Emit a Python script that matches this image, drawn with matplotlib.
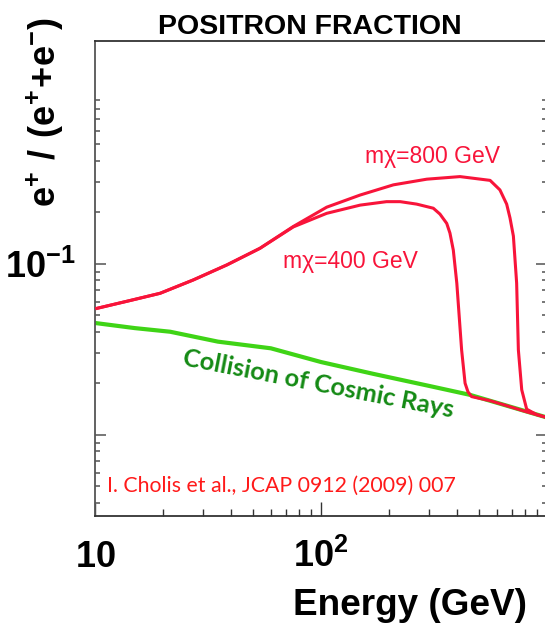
import matplotlib.pyplot as plt
from matplotlib.ticker import FixedLocator, NullFormatter

# values (energy in GeV, positron fraction)
energy_bg = [10, 15, 21.5, 35, 60, 100, 170, 300, 456, 650, 1000]
frac_bg = [0.045, 0.042, 0.040, 0.035, 0.032, 0.0266, 0.0227, 0.0193, 0.0171, 0.0149, 0.0126]

energy_800 = [10.2, 14.3, 19.4, 27.2, 38.3, 53.7, 75.4, 106, 149, 209, 294, 412,
              560, 619, 663, 686, 710, 734, 747, 773, 813, 900, 1000]
frac_800 = [0.0548, 0.0609, 0.0671, 0.0803, 0.0983, 0.123, 0.165, 0.214, 0.252, 0.289,
            0.312, 0.323, 0.307, 0.270, 0.223, 0.185, 0.145, 0.077, 0.0313, 0.0183,
            0.0141, 0.0131, 0.0126]

energy_400 = [10.2, 14.3, 19.4, 27.2, 38.3, 53.7, 75.4, 106, 149, 195, 224, 265, 314,
              336, 360, 372, 385, 399, 419, 434, 447, 464, 560, 650, 813, 1000]
frac_400 = [0.0548, 0.0609, 0.0671, 0.0803, 0.0983, 0.123, 0.164, 0.197, 0.220, 0.2305,
            0.2305, 0.223, 0.211, 0.195, 0.172, 0.151, 0.120, 0.0768, 0.0313, 0.0200,
            0.0178, 0.0167, 0.0158, 0.0149, 0.0136, 0.0126]

x_major = [10, 100, 1000]
x_minor = [20, 30, 40, 50, 60, 70, 80, 90, 200, 300, 400, 500, 600, 700, 800, 900]
x_labels = [r'$\mathbf{10}$', r'$\mathbf{10^2}$', '']
y_major = [0.01, 0.1]
y_minor = [0.004, 0.005, 0.006, 0.007, 0.008, 0.009,
           0.02, 0.03, 0.04, 0.05, 0.06, 0.07, 0.08, 0.09,
           0.2, 0.3, 0.4, 0.5, 0.6, 0.7, 0.8, 0.9]
y_labels = ['', r'$\mathbf{10^{-1}}$']

RED = '#f8143a'
GREEN = '#3fd416'

plt.rcParams['font.family'] = 'Liberation Sans'
plt.rcParams['mathtext.fontset'] = 'custom'
plt.rcParams['mathtext.rm'] = 'Liberation Sans'
plt.rcParams['mathtext.bf'] = 'Liberation Sans:bold'

W, H = 545, 623
fig = plt.figure(figsize=(W / 100, H / 100), dpi=100)
ax = fig.add_axes([95 / W, 1 - 516 / H, 452 / W, 475 / H])

ax.plot(energy_bg, frac_bg, color=GREEN, lw=3.0, zorder=2)
ax.plot(energy_400, frac_400, color=RED, lw=2.2, zorder=3, solid_joinstyle='round')
ax.plot(energy_800, frac_800, color=RED, lw=2.2, zorder=3, solid_joinstyle='round')

ax.set_xscale('log')
ax.set_yscale('log')
ax.set_xlim(10, 1000)
ax.set_ylim(0.003346, 2.005)

ax.xaxis.set_major_locator(FixedLocator(x_major))
ax.xaxis.set_minor_locator(FixedLocator(x_minor))
ax.xaxis.set_minor_formatter(NullFormatter())
ax.set_xticklabels(x_labels)
ax.yaxis.set_major_locator(FixedLocator(y_major))
ax.yaxis.set_minor_locator(FixedLocator(y_minor))
ax.yaxis.set_minor_formatter(NullFormatter())
ax.set_yticklabels(y_labels)

ax.tick_params(which='both', direction='in', top=False, right=True)
ax.tick_params(axis='x', which='major', length=10, width=1.0, color='#333333',
               pad=37, labelsize=26)
ax.tick_params(axis='x', which='minor', length=5, width=1.0, color='#333333')
ax.tick_params(axis='y', which='major', length=7.7, width=1.4, color='#777777',
               pad=14, labelsize=26)
ax.tick_params(axis='y', which='minor', length=3.6, width=1.4, color='#777777')
for lab in ax.get_xticklabels():
    lab.set_verticalalignment('baseline')

for side in ['top', 'bottom', 'left', 'right']:
    ax.spines[side].set_linewidth(1.3)
    ax.spines[side].set_color('#333333')
ax.spines['left'].set_color('#555555')

# texts
fig.text(310 / W, 1 - 33.5 / H, 'POSITRON FRACTION', ha='center', va='baseline',
         fontsize=20.5, fontweight='bold')
fig.text(45 / W, 1 - 112 / H, r'$\mathbf{e^{+}\ /\ (e^{+}\!+\!e^{-})}$', rotation=90,
         ha='center', va='center', fontsize=26)
fig.text(410 / W, 1 - 615 / H, 'Energy (GeV)', ha='center', va='baseline',
         fontsize=26.6, fontweight='bold')

ax.text(157, 0.388, 'm\u03c7=800 GeV', color=RED, fontsize=16.5, va='baseline')
ax.text(68, 0.094, 'm\u03c7=400 GeV', color=RED, fontsize=16.5, va='baseline')
ax.text(24.2, 0.0256, 'Collision of Cosmic Rays', color='#148a14', fontsize=18.3,
        fontweight='bold', family='Lato', rotation=-11, rotation_mode='anchor',
        ha='left', va='baseline')
ax.text(0.0265, 0.0505, 'I. Cholis et al., JCAP 0912 (2009) 007', color='#ff1a1a',
        fontsize=15.3, family='Lato', transform=ax.transAxes, va='baseline')

fig.savefig('out.png', dpi=100)
